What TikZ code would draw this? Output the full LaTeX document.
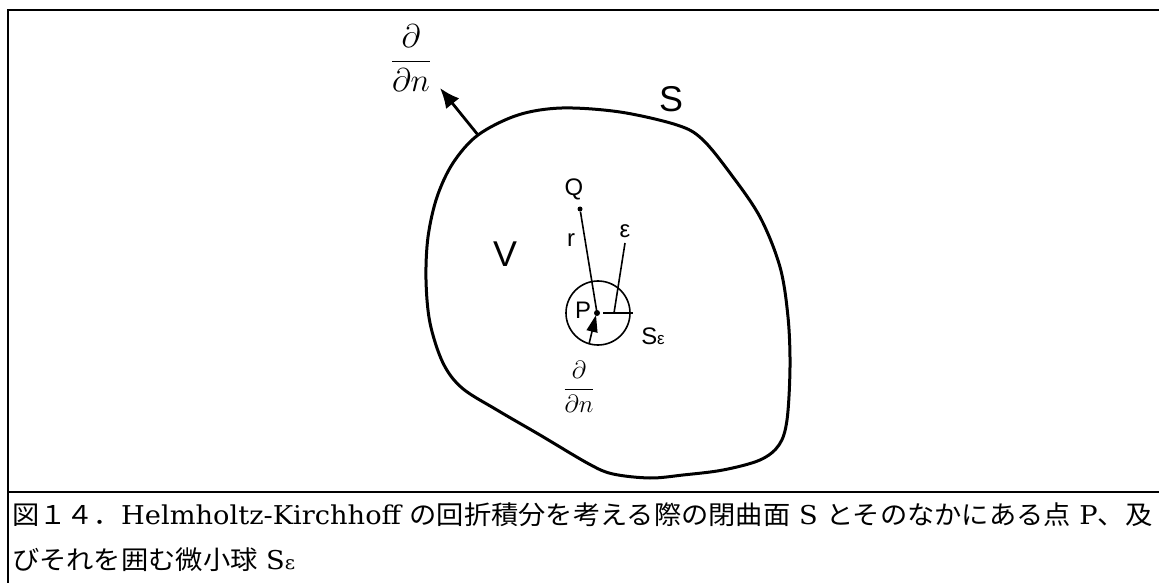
\documentclass[tikz,border=0pt]{standalone}
\usepackage{fix-cm}
\usepackage{graphicx}
\usepackage{fontspec}
\newfontfamily\cjk{Noto Sans CJK JP}
\newfontfamily\hv{Liberation Sans}
\newfontfamily\dser{DejaVu Serif}
\usetikzlibrary{arrows.meta}
\begin{document}
\begin{tikzpicture}[x=1bp,y=-1bp,
  frame/.style={line width=2bp},
  surf/.style={line width=3bp,line join=round},
  thin/.style={line width=1.6bp},
  lab/.style={inner sep=0pt,font=\hv\fontsize{24}{28}\selectfont},
  biglab/.style={inner sep=0pt,font=\hv\fontsize{36}{42}\selectfont},
  captext/.style={inner sep=0pt,anchor=base west,font=\dser\fontsize{26}{30}\selectfont},
  dot/.style={circle,fill=black,inner sep=0pt,minimum size=6bp}]
\useasboundingbox (0,0) rectangle (1159,583);
% frame
\coordinate (fa) at (7.5,583);
\coordinate (fb) at (7.5,10);
\coordinate (fc) at (1159,10);
\coordinate (sa) at (7.5,492);
\coordinate (sb) at (1159,492);
\draw[frame] (fa) -- (fb) -- (fc);
\draw[frame] (sa) -- (sb);
% surface S
\draw[surf] plot[smooth cycle,tension=0.55] coordinates {
 (562,108) (620,112) (677,125) (702,139) (730,173) (760,217) (780,267) (788,317)
 (790,367) (787,420) (779,445) (760,460) (723,470) (683,475) (650,478) (613,474)
 (589,464) (540,435) (497,410) (462,388) (443,363) (430,323) (426,280) (428,237)
 (437,197) (453,163) (478,135) (518,115)};
% outward normal
\coordinate (nb) at (478,135);
\coordinate (nt) at (440,88);
\draw[line width=2.8bp,-{Latex[length=20bp,width=17bp]}] (nb) -- (nt);
\node[inner sep=0pt,font=\fontsize{33}{40}\selectfont] (dn1) at (411,58) {$\displaystyle\frac{\partial}{\partial n}$};
\node[biglab] (Slab) at (671,99) {S};
\node[biglab] (Vlab) at (505,254) {V};
% small sphere
\node[draw,thin,circle,minimum size=64bp,inner sep=0pt] (Se) at (598,313) {};
\node[dot] (P) at (597,313) {};
\node[dot,minimum size=5bp] (Q) at (580,209) {};
\draw[thin] (Q) -- (P.center);
\coordinate (eb) at (614,313);
\coordinate (et) at (625,243);
\draw[thin] (eb) -- (et);
\coordinate (h1) at (603,313);
\coordinate (h2) at (633,313);
\draw[thin] (h1) -- (h2);
\coordinate (ab) at (589,344);
\coordinate (at) at (596,315);
\draw[thin,-{Triangle[length=17bp,width=11bp]}] (ab) -- (at);
\node[lab] (Qlab) at (574,189) {Q};
\node[lab] (rlab) at (571,240) {r};
\node[lab] (Plab) at (583,310) {P};
\node[lab] (elab) at (625,231) {ε};
\node[lab] (Selab) at (653,336) {S\fontsize{17}{20}\selectfont ε};
\node[inner sep=0pt,font=\fontsize{25}{30}\selectfont] (dn2) at (579,387) {$\displaystyle\frac{\partial}{\partial n}$};
% caption
\node[captext] (c1) at (12,524) {\resizebox{1140bp}{\height}{{\cjk 図１４．}Helmholtz-Kirchhoff {\cjk の回折積分を考える際の閉曲面} S {\cjk とそのなかにある点} P{\cjk 、及}}};
\node[captext] (c2) at (12,569) {\resizebox{283bp}{\height}{{\cjk びそれを囲む微小球} S{\fontsize{19}{22}\selectfont ε}}};
\end{tikzpicture}
\end{document}
